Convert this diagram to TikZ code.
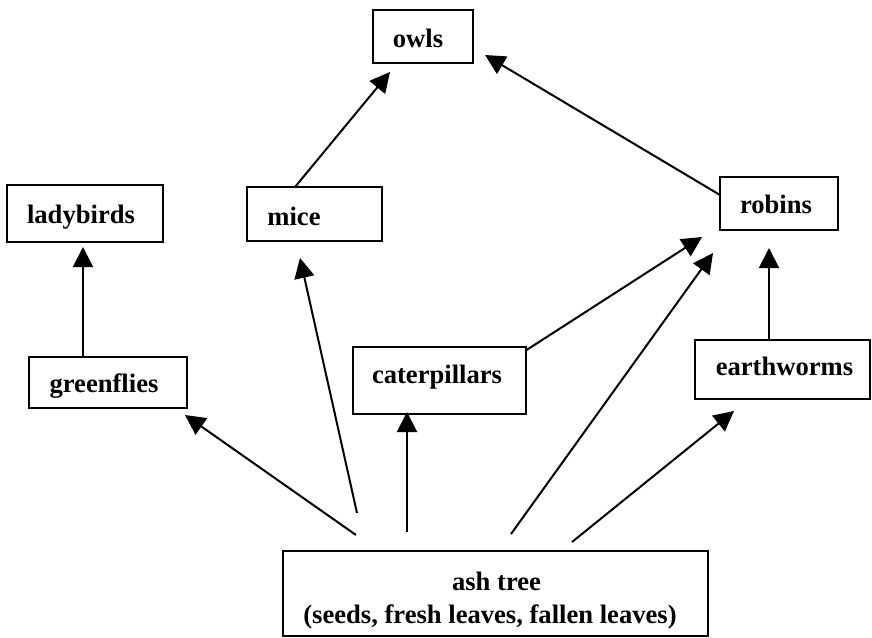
\documentclass[tikz,border=0pt]{standalone}
\usepackage{fontspec}
\setmainfont{Liberation Serif}
\usetikzlibrary{arrows.meta}
\begin{document}
\begin{tikzpicture}[x=1pt,y=-1pt,
  box/.style={draw, line width=2pt, inner sep=0pt},
  lbl/.style={anchor=base, inner sep=0pt, font=\fontsize{26.6}{33}\selectfont\bfseries},
  arr/.style={line width=2pt, -{Triangle[length=20pt,width=20pt]}}]
\useasboundingbox (0,0) rectangle (872,637);
% boxes
\node[box, minimum width=100pt, minimum height=53pt] (owls) at (423,36.5) {};
\node[box, minimum width=156pt, minimum height=57pt] (ladybirds) at (85,213.5) {};
\node[box, minimum width=135pt, minimum height=54pt] (mice) at (314.5,214) {};
\node[box, minimum width=118pt, minimum height=53pt] (robins) at (779,203.5) {};
\node[box, minimum width=158pt, minimum height=51pt] (greenflies) at (108,382.5) {};
\node[box, minimum width=173pt, minimum height=67pt] (caterpillars) at (439.5,380.5) {};
\node[box, minimum width=175pt, minimum height=59pt] (earthworms) at (782.5,369.5) {};
\node[box, minimum width=425pt, minimum height=85pt] (ash) at (495.5,593.5) {};
% labels
\node[lbl] (owlsT) at (418,47) {owls};
\node[lbl] (ladybirdsT) at (81,223) {ladybirds};
\node[lbl] (miceT) at (294,225) {mice};
\node[lbl] (robinsT) at (776,213) {robins};
\node[lbl] (greenfliesT) at (104,392) {greenflies};
\node[lbl] (caterpillarsT) at (437,383) {caterpillars};
\node[lbl] (earthwormsT) at (784.5,375) {earthworms};
\node[lbl] (ashT) at (496.5,590) {ash tree};
\node[lbl] (ashT2) at (490,623) {(seeds, fresh leaves, fallen leaves)};
% connector end points
\coordinate (gS) at (83,357);   \coordinate (gT) at (83,247);
\coordinate (mS) at (295,187);  \coordinate (mT) at (390,72);
\coordinate (rS) at (720,195);  \coordinate (rT) at (485,55);
\coordinate (eS) at (769,340);  \coordinate (eT) at (769,248);
\coordinate (cS) at (525,351);  \coordinate (cT) at (702,237);
\coordinate (a1S) at (356,535); \coordinate (a1T) at (185,415);
\coordinate (a2S) at (357,513); \coordinate (a2T) at (300,258);
\coordinate (a3S) at (407,532); \coordinate (a3T) at (407,412);
\coordinate (a4S) at (511,534); \coordinate (a4T) at (713,253);
\coordinate (a5S) at (572,542); \coordinate (a5T) at (734,411);
% connectors
\draw[arr] (gS) -- (gT);
\draw[arr] (mS) -- (mT);
\draw[arr] (rS) -- (rT);
\draw[arr] (eS) -- (eT);
\draw[arr] (cS) -- (cT);
\draw[arr] (a1S) -- (a1T);
\draw[arr] (a2S) -- (a2T);
\draw[arr] (a3S) -- (a3T);
\draw[arr] (a4S) -- (a4T);
\draw[arr] (a5S) -- (a5T);
\end{tikzpicture}
\end{document}
